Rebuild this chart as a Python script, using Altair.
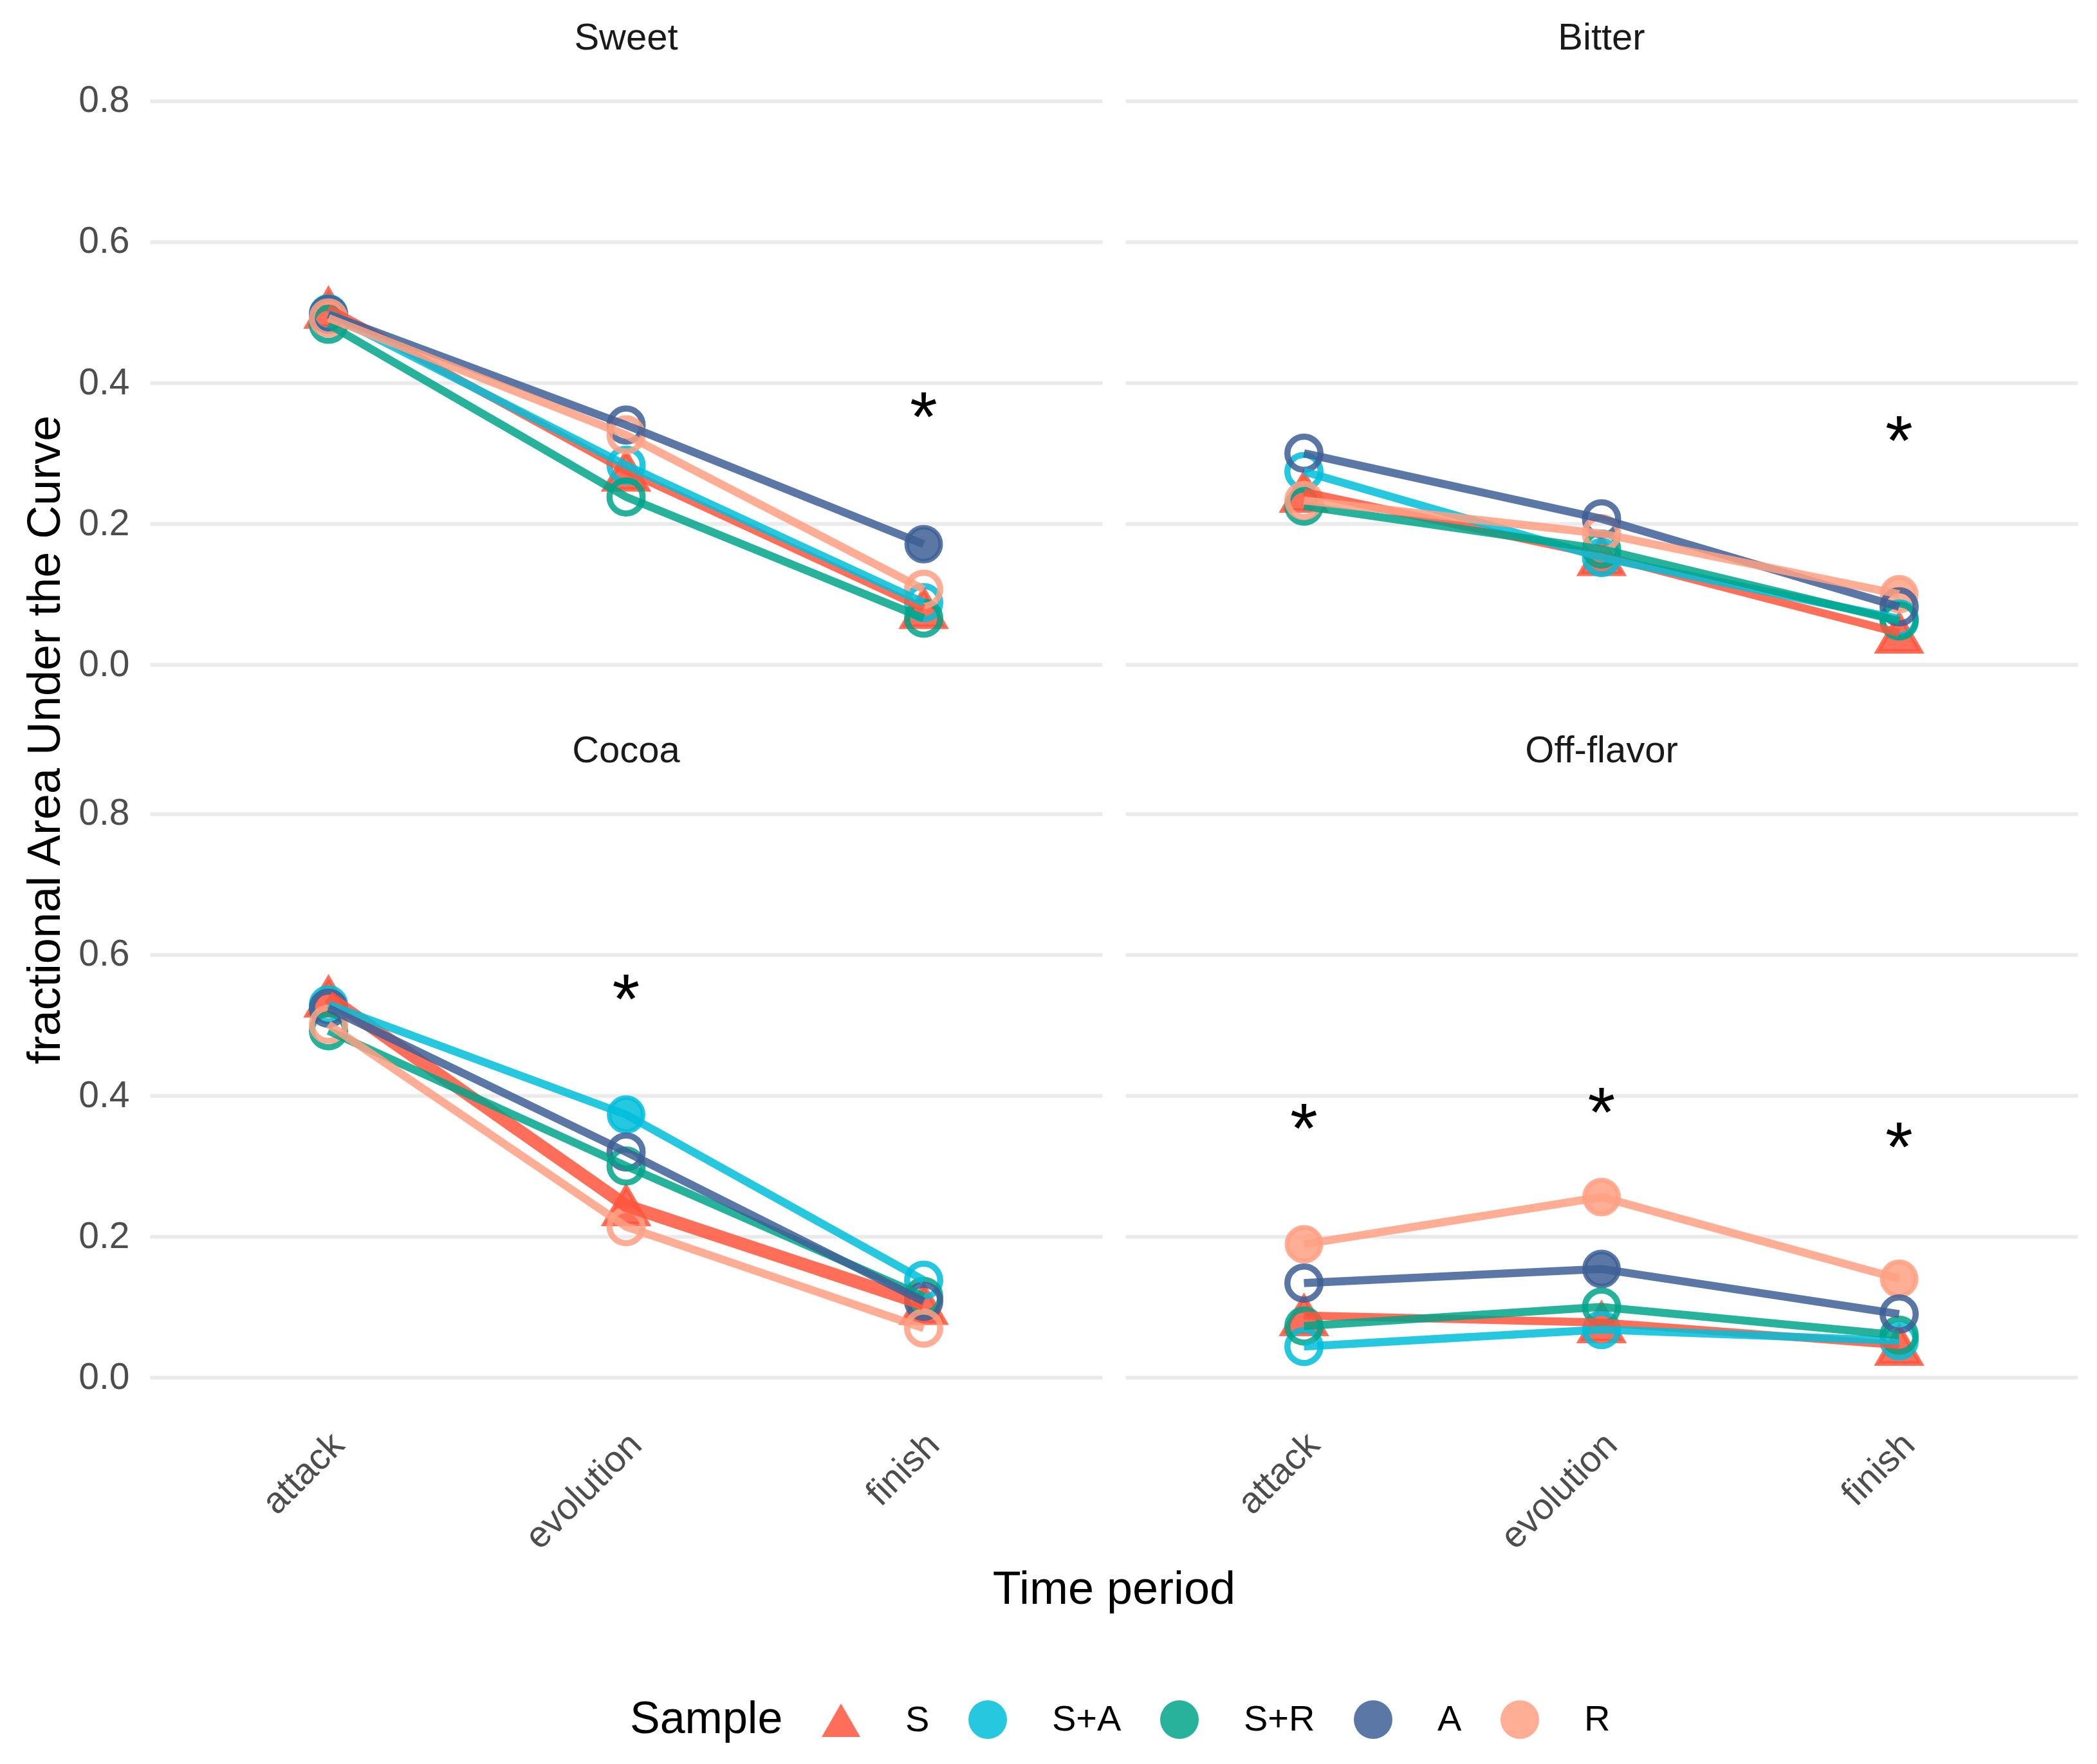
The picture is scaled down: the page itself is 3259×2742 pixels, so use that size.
import altair as alt
import pandas as pd

# Facettene, tidspunktene og prøvene
flavors = ["Sweet", "Bitter", "Cocoa", "Off-flavor"]
periods = ["attack", "evolution", "finish"]
samples = ["S", "S+A", "S+R", "A", "R"]
sample_colors = ["#FF553C", "#00BEDB", "#00A489", "#3E5F95", "#FFA083"]
sample_shapes = ["triangle-up", "circle", "circle", "circle", "circle"]

# fAUC per prøve (rader: S, S+A, S+R, A, R ; kolonner: attack, evolution, finish)
sweet = [[0.506, 0.275, 0.080],
         [0.498, 0.283, 0.088],
         [0.483, 0.238, 0.066],
         [0.497, 0.340, 0.171],
         [0.492, 0.326, 0.107]]
bitter = [[0.245, 0.155, 0.045],
          [0.274, 0.152, 0.065],
          [0.225, 0.164, 0.062],
          [0.300, 0.207, 0.082],
          [0.233, 0.186, 0.100]]
cocoa = [[0.540, 0.244, 0.104],
         [0.529, 0.373, 0.138],
         [0.492, 0.300, 0.115],
         [0.524, 0.320, 0.108],
         [0.501, 0.214, 0.070]]
off_flavor = [[0.088, 0.078, 0.046],
              [0.044, 0.068, 0.052],
              [0.073, 0.100, 0.060],
              [0.134, 0.154, 0.090],
              [0.189, 0.256, 0.140]]

# 1 = fylt symbol, 0 = åpen sirkel
sweet_filled = [[1, 1, 1], [0, 0, 0], [0, 0, 0], [0, 0, 1], [0, 0, 0]]
bitter_filled = [[1, 1, 1], [0, 0, 0], [0, 0, 0], [0, 0, 0], [0, 0, 1]]
cocoa_filled = [[1, 1, 1], [0, 1, 0], [0, 0, 0], [0, 0, 0], [0, 0, 0]]
off_filled = [[1, 1, 1], [0, 0, 0], [0, 0, 0], [0, 1, 0], [1, 1, 1]]

# Stjerner (signifikans)
star_flavor = ["Sweet", "Bitter", "Cocoa", "Off-flavor", "Off-flavor", "Off-flavor"]
star_period = ["finish", "finish", "evolution", "attack", "evolution", "finish"]
star_y = [0.374, 0.341, 0.560, 0.376, 0.399, 0.350]

FONT = "Liberation Sans"

rows = []
for fl, vals, fills in zip(flavors, [sweet, bitter, cocoa, off_flavor],
                           [sweet_filled, bitter_filled, cocoa_filled, off_filled]):
    for s, v_row, f_row in zip(samples, vals, fills):
        for p, v, f in zip(periods, v_row, f_row):
            rows.append({"flavor": fl, "period": p, "sample": s, "fauc": v,
                         "filled": f, "kind": "pt"})
for fl, p, y in zip(star_flavor, star_period, star_y):
    rows.append({"flavor": fl, "period": p, "sample": "", "fauc": y,
                 "filled": 0, "kind": "star"})
df = pd.DataFrame(rows)

legend = alt.Legend(title="Sample", orient="none", direction="horizontal",
                    legendX=746, legendY=2530,
                    titleOrient="left", titleFontSize=70, titleFontWeight="normal",
                    titleColor="black", titleFont=FONT, titlePadding=60,
                    titleLimit=1000, labelLimit=1000,
                    labelFontSize=56, labelColor="black", labelFont=FONT,
                    labelOffset=70, columnPadding=60, symbolSize=3600,
                    symbolStrokeWidth=0, symbolOpacity=0.85)

x = alt.X("period:N", scale=alt.Scale(type="point", padding=0.6, domain=periods),
          axis=alt.Axis(title=None, labelAngle=-45, labelAlign="right",
                        labelBaseline="top", labelFontSize=57, labelColor="#4D4D4D",
                        labelFont=FONT, labelPadding=32, labelOffset=-5,
                        labelLimit=1000, domain=False, ticks=False, grid=False))
y = alt.Y("fauc:Q", scale=alt.Scale(domain=[-0.04, 0.84], nice=False, zero=False),
          axis=alt.Axis(title=None, values=[0, 0.2, 0.4, 0.6, 0.8], format=".1f",
                        grid=True, gridColor="#EBEBEB", gridWidth=6,
                        domain=False, ticks=False, labelFontSize=57,
                        labelColor="#4D4D4D", labelFont=FONT, labelPadding=32))
color = alt.Color("sample:N", scale=alt.Scale(domain=samples, range=sample_colors),
                  legend=legend)
shape = alt.Shape("sample:N", scale=alt.Scale(domain=samples, range=sample_shapes),
                  legend=legend)
stroke = alt.Stroke("sample:N", scale=alt.Scale(domain=samples, range=sample_colors),
                    legend=None)

base = alt.Chart().encode(x=x, y=y)

# fylte symboler (trekanter for S, fylte sirkler der prøven skiller seg ut)
filled_pts = base.transform_filter(
    (alt.datum.kind == "pt") & (alt.datum.filled == 1)
).mark_point(filled=True, fillOpacity=0.85, strokeOpacity=0.85, strokeWidth=7).encode(
    color=color, shape=shape, stroke=stroke,
    size=alt.condition(alt.datum.sample == "S", alt.value(4400), alt.value(2800))
)

# åpne sirkler
open_pts = base.transform_filter(
    (alt.datum.kind == "pt") & (alt.datum.filled == 0)
).mark_point(filled=False, opacity=0.85, strokeWidth=9.5, size=2650).encode(
    color=color, shape=shape
)

lines = base.transform_filter(alt.datum.kind == "pt").mark_line(opacity=0.85).encode(
    color=alt.Color("sample:N", scale=alt.Scale(domain=samples, range=sample_colors),
                    legend=None),
    detail="sample:N",
    strokeWidth=alt.condition((alt.datum.flavor == "Cocoa") & (alt.datum.sample == "S"),
                              alt.value(20), alt.value(12.5))
)

stars = base.transform_filter(alt.datum.kind == "star").mark_text(
    text="*", fontSize=110, font=FONT, color="black", baseline="alphabetic", dy=62
)

panel = alt.layer(filled_pts, open_pts, lines, stars).properties(width=1480, height=964)

facet_chart = panel.facet(
    data=df,
    facet=alt.Facet("flavor:N", sort=flavors,
                    header=alt.Header(title=None, labelFontSize=58, labelFont=FONT,
                                      labelColor="#1A1A1A", labelPadding=24)),
    columns=2,
    spacing={"row": 62, "column": 36},
).properties(
    title=alt.TitleParams("Time period", orient="bottom", anchor="middle",
                          fontSize=72, fontWeight="normal", font=FONT,
                          color="black", offset=18, dx=56)
)

mid = alt.vconcat(facet_chart).properties(
    title=alt.TitleParams("fractional Area Under the Curve", orient="left",
                          anchor="middle", fontSize=72, fontWeight="normal",
                          font=FONT, color="black", offset=14, dx=119)
)

chart = alt.vconcat(mid).properties(
    padding={"left": 26, "top": 23, "right": 5, "bottom": 5}
).configure_view(stroke="transparent", strokeWidth=0)

chart.save("out.html", embed_options={"renderer": "svg", "actions": False})
